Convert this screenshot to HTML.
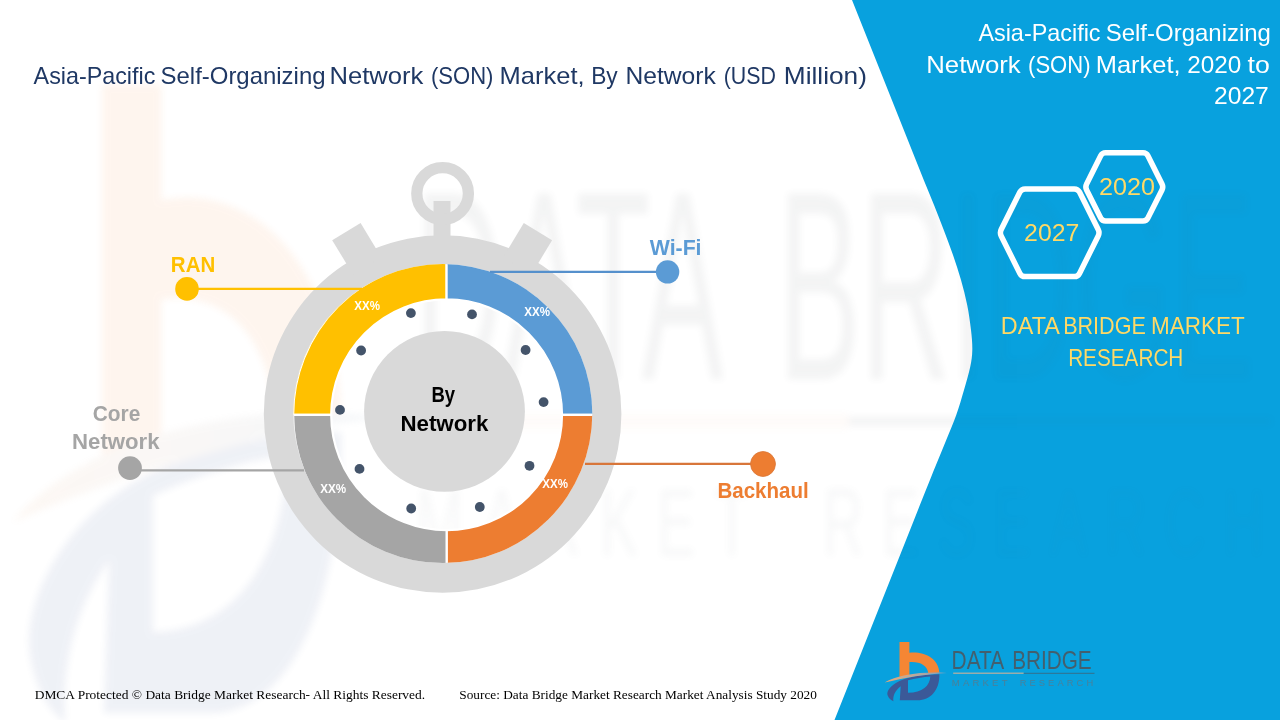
<!DOCTYPE html>
<html lang="en"><head><meta charset="utf-8"><title>Asia-Pacific Self-Organizing Network (SON) Market</title>
<style>html,body{margin:0;padding:0;background:#fff;overflow:hidden}svg{display:block}</style></head>
<body>
<svg width="1280" height="720" viewBox="0 0 1280 720">
<defs><clipPath id="hole"><circle cx="442.8" cy="413.6" r="149.5"/></clipPath><filter id="wmblur" x="-5%" y="-5%" width="110%" height="110%"><feGaussianBlur stdDeviation="3.5"/></filter><linearGradient id="sw" x1="0" x2="1" y1="0" y2="0"><stop offset="0" stop-color="#E8A874"/><stop offset="0.45" stop-color="#C0A898"/><stop offset="1" stop-color="#7F9FBF"/></linearGradient><clipPath id="pclip"><path d="M852,0 L923.75,180 C927.1,188.3 930.7,196.7 934,205 C937.3,213.3 940.6,221.7 943.75,230 C946.9,238.3 950.1,246.7 953,255 C955.9,263.3 958.6,271.7 961,280 C963.4,288.3 965.5,296.7 967.2,305 C968.9,313.3 970.1,322.5 971,330 C971.9,337.5 972.4,343.8 972.3,350 C972.2,356.2 971.6,360.3 970.2,367 C968.8,373.7 966.3,382.0 964,390 C961.7,398.0 959.2,406.7 956.25,415 C953.3,423.3 949.6,431.7 946.25,440 C942.9,448.3 939.4,456.7 936,465 C932.6,473.3 929.6,480.8 925.9,490 C922.2,499.2 918.0,510.0 914,520 L834.5,720 L1280,720 L1280,0 Z"/></clipPath></defs>
<rect width="1280" height="720" fill="#ffffff"/>
<g opacity="0.077" filter="url(#wmblur)" style="--lt:0.78;--lm:0.6"><use href="#logo" transform="matrix(6 0 0 10.8 -5295 -6850.2)"/></g>
<path d="M852,0 L923.75,180 C927.1,188.3 930.7,196.7 934,205 C937.3,213.3 940.6,221.7 943.75,230 C946.9,238.3 950.1,246.7 953,255 C955.9,263.3 958.6,271.7 961,280 C963.4,288.3 965.5,296.7 967.2,305 C968.9,313.3 970.1,322.5 971,330 C971.9,337.5 972.4,343.8 972.3,350 C972.2,356.2 971.6,360.3 970.2,367 C968.8,373.7 966.3,382.0 964,390 C961.7,398.0 959.2,406.7 956.25,415 C953.3,423.3 949.6,431.7 946.25,440 C942.9,448.3 939.4,456.7 936,465 C932.6,473.3 929.6,480.8 925.9,490 C922.2,499.2 918.0,510.0 914,520 L834.5,720 L1280,720 L1280,0 Z" fill="#08A1DE"/>
<g opacity="0.035" clip-path="url(#pclip)" filter="url(#wmblur)" style="--lt:0.78;--lm:0.6"><use href="#logo" transform="matrix(6 0 0 10.8 -5295 -6850.2)"/></g>
<g fill="#D9D9D9">
<path fill-rule="evenodd" d="M263.8,414 a178.8,178.8 0 1 0 357.6,0 a178.8,178.8 0 1 0 -357.6,0 Z M293.3,413.6 a149.5,149.5 0 1 0 299.0,0 a149.5,149.5 0 1 0 -299.0,0 Z"/>
<polygon points="332.2,240.2 360.6,223.1 381.3,257.3 353.0,274.5"/><polygon points="552.1,240.2 523.8,223.1 503.1,257.3 531.4,274.5"/>
<rect x="433.5" y="201" width="17" height="40"/>
<circle cx="442.6" cy="193.5" r="25.8" fill="none" stroke="#D9D9D9" stroke-width="11.3"/>
</g>
<g clip-path="url(#hole)">
<path d="M293.10,414.80 A153.5,153.5 0 0 1 446.60,261.30 L446.60,299.40 A115.4,115.4 0 0 0 331.20,414.80 Z" fill="#FFC000" stroke="#fff" stroke-width="2.2"/>
<path d="M446.60,261.30 A153.5,153.5 0 0 1 600.10,414.80 L562.00,414.80 A115.4,115.4 0 0 0 446.60,299.40 Z" fill="#5B9BD5" stroke="#fff" stroke-width="2.2"/>
<path d="M600.10,414.80 A153.5,153.5 0 0 1 446.60,568.30 L446.60,530.20 A115.4,115.4 0 0 0 562.00,414.80 Z" fill="#ED7D31" stroke="#fff" stroke-width="2.2"/>
<path d="M446.60,568.30 A153.5,153.5 0 0 1 293.10,414.80 L331.20,414.80 A115.4,115.4 0 0 0 446.60,530.20 Z" fill="#A5A5A5" stroke="#fff" stroke-width="2.2"/>
</g>
<circle cx="444.5" cy="411.4" r="80.4" fill="#D9D9D9"/>
<circle cx="410.9" cy="313.1" r="4.9" fill="#44546A"/>
<circle cx="472" cy="314.4" r="4.9" fill="#44546A"/>
<circle cx="361.1" cy="350.5" r="4.9" fill="#44546A"/>
<circle cx="525.6" cy="350" r="4.9" fill="#44546A"/>
<circle cx="340" cy="409.9" r="4.9" fill="#44546A"/>
<circle cx="543.6" cy="402.1" r="4.9" fill="#44546A"/>
<circle cx="359.5" cy="468.9" r="4.9" fill="#44546A"/>
<circle cx="529.5" cy="465.8" r="4.9" fill="#44546A"/>
<circle cx="411.2" cy="508.5" r="4.9" fill="#44546A"/>
<circle cx="479.8" cy="507" r="4.9" fill="#44546A"/>
<path d="M187,288.8 H362" stroke="#FFC000" stroke-width="2.3"/><circle cx="187" cy="288.9" r="11.8" fill="#FFC000"/>
<path d="M130,470.3 H304" stroke="#A5A5A5" stroke-width="2.3"/><circle cx="130" cy="468.1" r="11.9" fill="#A5A5A5"/>
<path d="M490,271.8 H667.5" stroke="#5590CC" stroke-width="2.3"/><circle cx="667.6" cy="271.9" r="11.7" fill="#5B9BD5"/>
<path d="M585,463.8 H763" stroke="#D8763A" stroke-width="2.3"/><circle cx="763" cy="464" r="12.4" fill="#ED7D31" stroke="#DC7838" stroke-width="0.9"/>
<g fill="none" stroke="#fff" stroke-width="5.5" stroke-linejoin="round">
<path d="M1001.2,236.0 Q999.6,232.8 1001.2,229.5 L1019.9,192.1 Q1021.5,188.9 1025.1,188.9 L1074.3,188.9 Q1077.9,188.9 1079.5,192.1 L1098.2,229.5 Q1099.8,232.8 1098.2,236.0 L1079.5,273.4 Q1077.9,276.6 1074.3,276.6 L1025.1,276.6 Q1021.5,276.6 1019.9,273.4 Z"/>
<path d="M1086.6,190.0 Q1085.1,186.9 1086.6,183.9 L1100.7,155.8 Q1102.2,152.8 1105.6,152.8 L1143.0,152.8 Q1146.4,152.8 1147.9,155.8 L1162.0,183.9 Q1163.5,186.9 1162.0,190.0 L1147.9,218.1 Q1146.4,221.1 1143.0,221.1 L1105.6,221.1 Q1102.2,221.1 1100.7,218.1 Z"/>
</g>
<text y="83.9" font-family="'Liberation Sans', sans-serif" font-size="23.6" fill="#1F3864"><tspan x="33.6" textLength="121.75" lengthAdjust="spacingAndGlyphs">Asia-Pacific</tspan> <tspan x="160.59" textLength="164.96" lengthAdjust="spacingAndGlyphs">Self-Organizing</tspan> <tspan x="329.43" textLength="93.85" lengthAdjust="spacingAndGlyphs">Network</tspan> <tspan x="430.97" textLength="62.46" lengthAdjust="spacingAndGlyphs">(SON)</tspan> <tspan x="499.64" textLength="84.97" lengthAdjust="spacingAndGlyphs">Market,</tspan> <tspan x="591.17" textLength="26.56" lengthAdjust="spacingAndGlyphs">By</tspan> <tspan x="625.41" textLength="90.34" lengthAdjust="spacingAndGlyphs">Network</tspan> <tspan x="723.69" textLength="52.21" lengthAdjust="spacingAndGlyphs">(USD</tspan> <tspan x="783.77" textLength="83.16" lengthAdjust="spacingAndGlyphs">Million)</tspan></text>
<text y="40.5" font-family="'Liberation Sans', sans-serif" font-size="23.6" fill="#fff"><tspan x="978.4" textLength="122.15" lengthAdjust="spacingAndGlyphs">Asia-Pacific</tspan> <tspan x="1105.73" textLength="165.22" lengthAdjust="spacingAndGlyphs">Self-Organizing</tspan></text>
<text y="72.5" font-family="'Liberation Sans', sans-serif" font-size="23.6" fill="#fff"><tspan x="926.22" textLength="94.46" lengthAdjust="spacingAndGlyphs">Network</tspan> <tspan x="1028.07" textLength="62.46" lengthAdjust="spacingAndGlyphs">(SON)</tspan> <tspan x="1095.74" textLength="84.81" lengthAdjust="spacingAndGlyphs">Market,</tspan> <tspan x="1187.27" textLength="54.04" lengthAdjust="spacingAndGlyphs">2020</tspan> <tspan x="1247.5" textLength="22.28" lengthAdjust="spacingAndGlyphs">to</tspan></text>
<text y="104.4" font-family="'Liberation Sans', sans-serif" font-size="23.2" fill="#fff"><tspan x="1214.04" textLength="54.79" lengthAdjust="spacingAndGlyphs">2027</tspan></text>
<text y="240.6" font-family="'Liberation Sans', sans-serif" font-size="23.2" fill="#FFD966"><tspan x="1024.13" textLength="55.21" lengthAdjust="spacingAndGlyphs">2027</tspan></text>
<text y="194.5" font-family="'Liberation Sans', sans-serif" font-size="23.2" fill="#FFD966"><tspan x="1098.91" textLength="56.03" lengthAdjust="spacingAndGlyphs">2020</tspan></text>
<text y="333.9" font-family="'Liberation Sans', sans-serif" font-size="23.6" fill="#FFD966"><tspan x="1000.86" textLength="57.65" lengthAdjust="spacingAndGlyphs">DATA</tspan> <tspan x="1063.17" textLength="82.66" lengthAdjust="spacingAndGlyphs">BRIDGE</tspan> <tspan x="1151.09" textLength="93.72" lengthAdjust="spacingAndGlyphs">MARKET</tspan></text>
<text y="365.9" font-family="'Liberation Sans', sans-serif" font-size="23.6" fill="#FFD966"><tspan x="1068.14" textLength="115.21" lengthAdjust="spacingAndGlyphs">RESEARCH</tspan></text>
<text y="271.8" font-family="'Liberation Sans', sans-serif" font-size="21.5" fill="#FFC000" font-weight="bold"><tspan x="170.85" textLength="44.42" lengthAdjust="spacingAndGlyphs">RAN</tspan></text>
<text y="254.8" font-family="'Liberation Sans', sans-serif" font-size="21.5" fill="#5B9BD5" font-weight="bold"><tspan x="649.8" textLength="51.73" lengthAdjust="spacingAndGlyphs">Wi-Fi</tspan></text>
<text y="420.6" font-family="'Liberation Sans', sans-serif" font-size="21.5" fill="#A5A5A5" font-weight="bold"><tspan x="92.78" textLength="47.58" lengthAdjust="spacingAndGlyphs">Core</tspan></text>
<text y="449.4" font-family="'Liberation Sans', sans-serif" font-size="21.5" fill="#A5A5A5" font-weight="bold"><tspan x="72.07" textLength="87.5" lengthAdjust="spacingAndGlyphs">Network</tspan></text>
<text y="497.6" font-family="'Liberation Sans', sans-serif" font-size="21.5" fill="#ED7D31" font-weight="bold"><tspan x="717.45" textLength="91.19" lengthAdjust="spacingAndGlyphs">Backhaul</tspan></text>
<text y="401.5" font-family="'Liberation Sans', sans-serif" font-size="21.2" fill="#000" font-weight="bold"><tspan x="431.43" textLength="23.65" lengthAdjust="spacingAndGlyphs">By</tspan></text>
<text y="430.9" font-family="'Liberation Sans', sans-serif" font-size="21.2" fill="#000" font-weight="bold"><tspan x="400.45" textLength="87.98" lengthAdjust="spacingAndGlyphs">Network</tspan></text>
<text y="309.9" font-family="'Liberation Sans', sans-serif" font-size="12.5" fill="#fff" font-weight="bold"><tspan x="354.3" textLength="25.71" lengthAdjust="spacingAndGlyphs">XX%</tspan></text>
<text y="315.9" font-family="'Liberation Sans', sans-serif" font-size="12.5" fill="#fff" font-weight="bold"><tspan x="524.3" textLength="25.71" lengthAdjust="spacingAndGlyphs">XX%</tspan></text>
<text y="487.9" font-family="'Liberation Sans', sans-serif" font-size="12.5" fill="#fff" font-weight="bold"><tspan x="542.3" textLength="25.61" lengthAdjust="spacingAndGlyphs">XX%</tspan></text>
<text y="493" font-family="'Liberation Sans', sans-serif" font-size="12.5" fill="#fff" font-weight="bold"><tspan x="320.2" textLength="25.91" lengthAdjust="spacingAndGlyphs">XX%</tspan></text>
<text y="698.6" font-family="'Liberation Serif', serif" font-size="13.33" fill="#000"><tspan x="34.69" textLength="390.46" lengthAdjust="spacingAndGlyphs">DMCA Protected © Data Bridge Market Research- All Rights Reserved.</tspan></text>
<text y="699" font-family="'Liberation Serif', serif" font-size="13.33" fill="#000"><tspan x="459.3" textLength="357.61" lengthAdjust="spacingAndGlyphs">Source: Data Bridge Market Research Market Analysis Study 2020</tspan></text>
<g id="logo"><path d="M899.5,642.1 H909.4 V652.8 C923,651.2 938.5,657.5 939.4,672.8 L928.3,673.4 C927.5,665 919.5,661.2 909.4,662 V675.2 L899.5,676.8 Z" fill="#F58634"/><path fill-rule="evenodd" d="M939.4,674.3 C921,674.4 905.5,677 895.5,683.2 C889.5,687 886.6,691.6 887.5,695 C888.6,698.5 891,700.2 893.4,701.2 C892.6,695.5 895.6,690 900.7,686.2 L899.8,700.3 H917.5 C930.5,700.3 939.6,690.5 939.4,674.3 Z M908,680.2 C915,678.4 923,677 930.3,676.4 C930,685.5 922.5,692.6 908,692.8 Z" fill="#3B5998"/><path d="M884.6,682.6 C897,674.3 925,671.2 947,673 C928,673.6 903,678.2 884.6,682.6 Z" fill="url(#sw)"/><text y="669.4" font-family="'Liberation Sans', sans-serif" font-size="25" fill="#4E545A" style="fill-opacity:var(--lt,0.85)"><tspan x="951.56" textLength="51.51" lengthAdjust="spacingAndGlyphs">DATA</tspan> <tspan x="1012.14" textLength="79.47" lengthAdjust="spacingAndGlyphs">BRIDGE</tspan></text><text y="685.8" font-family="'Liberation Sans', sans-serif" font-size="9" fill="#66727C" letter-spacing="3" style="fill-opacity:var(--lm,0.7)"><tspan x="951.84" textLength="58.67" lengthAdjust="spacingAndGlyphs">MARKET</tspan> <tspan x="1019.67" textLength="76.59" lengthAdjust="spacingAndGlyphs">RESEARCH</tspan></text><path d="M953.2,673.3 H1023.7" stroke="#F2B48C" stroke-opacity="0.62" stroke-width="1.4"/><path d="M1023.7,673.3 H1094.5" stroke="#4E545A" stroke-opacity="0.8" stroke-width="0.8"/></g>
</svg>
</body></html>
